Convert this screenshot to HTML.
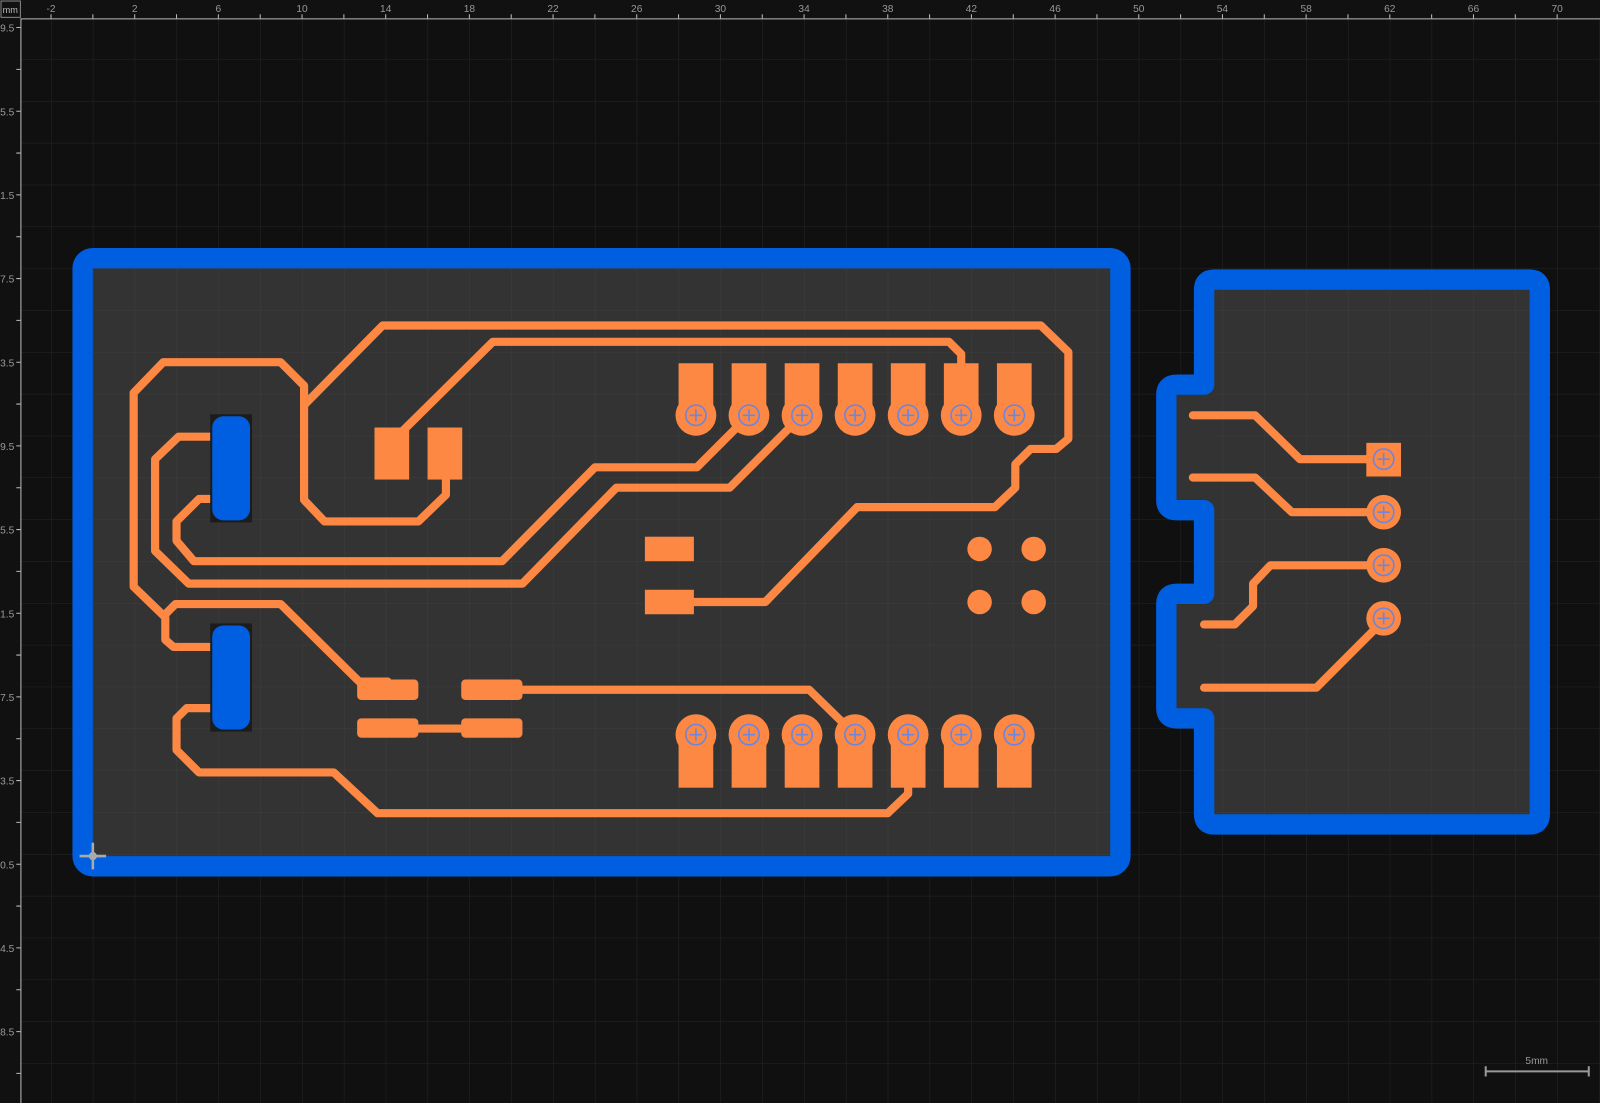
<!DOCTYPE html>
<html><head><meta charset="utf-8"><style>
html,body{margin:0;padding:0;background:#101010;overflow:hidden}
svg{display:block}
text{font-family:"Liberation Sans",sans-serif}
</style></head><body>
<svg width="1600" height="1103" viewBox="0 0 1568 1081" preserveAspectRatio="none" xmlns="http://www.w3.org/2000/svg">
<defs>
<pattern id="g" x="9" y="17" width="41" height="41" patternUnits="userSpaceOnUse">
<path d="M0 0H41M0 0V41" stroke="#262626" stroke-width="1" fill="none"/>
</pattern>
<pattern id="g2" x="9" y="17" width="41" height="41" patternUnits="userSpaceOnUse">
<path d="M0 0H41M0 0V41" stroke="#3d3d3d" stroke-width="1" fill="none"/>
</pattern>
<g id="pm"><circle r="10" fill="none" stroke="#6b86e0" stroke-width="1.6"/><path d="M-6 0H6M0 -6V6" stroke="#6b86e0" stroke-width="1.6"/></g>
</defs>
<rect width="1568" height="1081" fill="#101010"/>
<rect x="20" y="18" width="1548" height="1063" fill="url(#g)"/>

<!-- board 1 -->
<rect x="81" y="253" width="1017" height="596" rx="10" fill="#333" stroke="#005fe0" stroke-width="20"/>
<rect x="91" y="263" width="997" height="576" fill="url(#g2)"/>
<!-- board 2 -->
<path d="M1180 284 Q1180 274 1190 274 H1499 Q1509 274 1509 284 V798 Q1509 808 1499 808 H1190 Q1180 808 1180 798 V704 H1153 Q1143 704 1143 694 V592 Q1143 582 1153 582 H1180 V500 H1153 Q1143 500 1143 490 V387 Q1143 377 1153 377 H1180 Z" fill="#333" stroke="#005fe0" stroke-width="20" stroke-linejoin="round"/>
<rect x="1190" y="284" width="309" height="514" fill="url(#g2)"/>
<rect x="1153" y="387" width="37" height="103" fill="#333"/>
<rect x="1153" y="592" width="37" height="102" fill="#333"/>

<!-- traces -->
<g fill="none" stroke="#fd8843" stroke-width="8" stroke-linejoin="round" stroke-linecap="round">
<path d="M437 470 V485 L410 511 H318 L298 490 V378 L275 355 H160 L131 385 V575 L162 605 V627 L170 634 H207"/>
<path d="M162 602 L172 592 H275 L352 668 H380"/>
<path d="M298 397 L375 319 H1020 L1047 345 V430 L1035 440 H1010 L995 455 V478 L975 497 H840 L750 590 H660"/>
<path d="M395 422 L483 335 H930 L942 347 V370"/>
<path d="M207 428 H175 L152 450 V540 L185 572 H512 L604 478 H715 L786 407"/>
<path d="M207 489 H195 L173 511 V530 L190 550 H492 L583 458 H683 L734 407"/>
<path d="M207 694 H183 L173 704 V735 L195 757 H327 L370 797 H870 L890 778 V765"/>
<path d="M512 676 H793 L838 720"/>
<path d="M410 714 H452"/>
<path d="M1169 407 H1230 L1274 450 H1356"/>
<path d="M1169 468 H1230 L1266 502 H1356"/>
<path d="M1180 612 H1210 L1228 594 V572 L1245 554 H1356"/>
<path d="M1180 674 H1290 L1356 608"/>
</g>

<!-- pads -->
<g fill="#fd8843">
<rect x="367" y="419" width="34" height="51"/>
<rect x="419" y="419" width="34" height="51"/>
<rect x="350" y="666" width="60" height="20" rx="4"/>
<rect x="452" y="666" width="60" height="20" rx="4"/>
<rect x="350" y="704" width="60" height="19" rx="4"/>
<rect x="452" y="704" width="60" height="19" rx="4"/>
<rect x="632" y="526" width="48" height="24"/>
<rect x="632" y="578" width="48" height="24"/>
<circle cx="960" cy="538" r="12"/><circle cx="1013" cy="538" r="12"/>
<circle cx="960" cy="590" r="12"/><circle cx="1013" cy="590" r="12"/>
<rect x="1339" y="434" width="34" height="33"/>
<circle cx="1356" cy="502" r="17"/><circle cx="1356" cy="554" r="17"/><circle cx="1356" cy="606" r="17"/>
</g>
<g fill="#fd8843">
<rect x="665" y="356" width="34" height="51"/><circle cx="682" cy="407" r="20"/>
<rect x="717" y="356" width="34" height="51"/><circle cx="734" cy="407" r="20"/>
<rect x="769" y="356" width="34" height="51"/><circle cx="786" cy="407" r="20"/>
<rect x="821" y="356" width="34" height="51"/><circle cx="838" cy="407" r="20"/>
<rect x="873" y="356" width="34" height="51"/><circle cx="890" cy="407" r="20"/>
<rect x="925" y="356" width="34" height="51"/><circle cx="942" cy="407" r="20"/>
<rect x="977" y="356" width="34" height="51"/><circle cx="994" cy="407" r="20"/>
<rect x="665" y="720" width="34" height="52"/><circle cx="682" cy="720" r="20"/>
<rect x="717" y="720" width="34" height="52"/><circle cx="734" cy="720" r="20"/>
<rect x="769" y="720" width="34" height="52"/><circle cx="786" cy="720" r="20"/>
<rect x="821" y="720" width="34" height="52"/><circle cx="838" cy="720" r="20"/>
<rect x="873" y="720" width="34" height="52"/><circle cx="890" cy="720" r="20"/>
<rect x="925" y="720" width="34" height="52"/><circle cx="942" cy="720" r="20"/>
<rect x="977" y="720" width="34" height="52"/><circle cx="994" cy="720" r="20"/>
</g>
<use href="#pm" x="682" y="407"/><use href="#pm" x="734" y="407"/><use href="#pm" x="786" y="407"/><use href="#pm" x="838" y="407"/><use href="#pm" x="890" y="407"/><use href="#pm" x="942" y="407"/><use href="#pm" x="994" y="407"/>
<use href="#pm" x="682" y="720"/><use href="#pm" x="734" y="720"/><use href="#pm" x="786" y="720"/><use href="#pm" x="838" y="720"/><use href="#pm" x="890" y="720"/><use href="#pm" x="942" y="720"/><use href="#pm" x="994" y="720"/>
<use href="#pm" x="1356" y="450"/><use href="#pm" x="1356" y="502"/><use href="#pm" x="1356" y="554"/><use href="#pm" x="1356" y="606"/>

<!-- blue bottom-layer pads -->
<rect x="206" y="406" width="41" height="106" fill="#1c1c1c"/>
<rect x="206" y="611" width="41" height="106" fill="#1c1c1c"/>
<rect x="208" y="408" width="37" height="102" rx="11" fill="#005fe0"/>
<rect x="208" y="613" width="37" height="102" rx="11" fill="#005fe0"/>

<!-- origin marker -->
<g stroke="#aaa" stroke-width="2.5"><path d="M91 826V852M78 839H104"/></g>
<circle cx="91" cy="839" r="4" fill="#aaa"/>

<!-- scale bar -->
<path d="M1456 1050H1557M1456 1045V1055M1557 1045V1055" stroke="#999" stroke-width="2"/>
<text x="1506" y="1043" font-size="10" fill="#999" text-anchor="middle">5mm</text>

<!-- rulers -->
<rect x="0" y="0" width="1568" height="18" fill="#111"/>
<rect x="0" y="0" width="20" height="1081" fill="#111"/>
<path d="M20 18.5H1568M20.5 18V1081" stroke="#bbb" stroke-width="1"/>
<rect x="1" y="1" width="19" height="16" fill="none" stroke="#888"/>
<text x="10" y="13" font-size="9" fill="#bbb" text-anchor="middle">mm</text>
<g fill="#999" font-size="10" text-anchor="middle">
<text x="50" y="12">-2</text><text x="132" y="12">2</text><text x="214" y="12">6</text><text x="296" y="12">10</text><text x="378" y="12">14</text><text x="460" y="12">18</text><text x="542" y="12">22</text><text x="624" y="12">26</text><text x="706" y="12">30</text><text x="788" y="12">34</text><text x="870" y="12">38</text><text x="952" y="12">42</text><text x="1034" y="12">46</text><text x="1116" y="12">50</text><text x="1198" y="12">54</text><text x="1280" y="12">58</text><text x="1362" y="12">62</text><text x="1444" y="12">66</text><text x="1526" y="12">70</text>
</g>
<g stroke="#bbb" stroke-width="1">
<path d="M50 14V18M91 14V18M132 14V18M173 14V18M214 14V18M255 14V18M296 14V18M337 14V18M378 14V18M419 14V18M460 14V18M501 14V18M542 14V18M583 14V18M624 14V18M665 14V18M706 14V18M747 14V18M788 14V18M829 14V18M870 14V18M911 14V18M952 14V18M993 14V18M1034 14V18M1075 14V18M1116 14V18M1157 14V18M1198 14V18M1239 14V18M1280 14V18M1321 14V18M1362 14V18M1403 14V18M1444 14V18M1485 14V18M1526 14V18"/>
<path d="M16 27H20M16 68H20M16 109H20M16 150H20M16 191H20M16 232H20M16 273H20M16 314H20M16 355H20M16 396H20M16 437H20M16 478H20M16 519H20M16 560H20M16 601H20M16 642H20M16 683H20M16 724H20M16 765H20M16 806H20M16 847H20M16 888H20M16 929H20M16 970H20M16 1011H20M16 1052H20"/>
</g>
<g fill="#999" font-size="10" text-anchor="end">
<text x="14" y="31">9.5</text><text x="14" y="113">5.5</text><text x="14" y="195">1.5</text><text x="14" y="277">7.5</text><text x="14" y="359">3.5</text><text x="14" y="441">9.5</text><text x="14" y="523">5.5</text><text x="14" y="605">1.5</text><text x="14" y="687">7.5</text><text x="14" y="769">3.5</text><text x="14" y="851">0.5</text><text x="14" y="933">4.5</text><text x="14" y="1015">8.5</text>
</g>
</svg>
</body></html>
